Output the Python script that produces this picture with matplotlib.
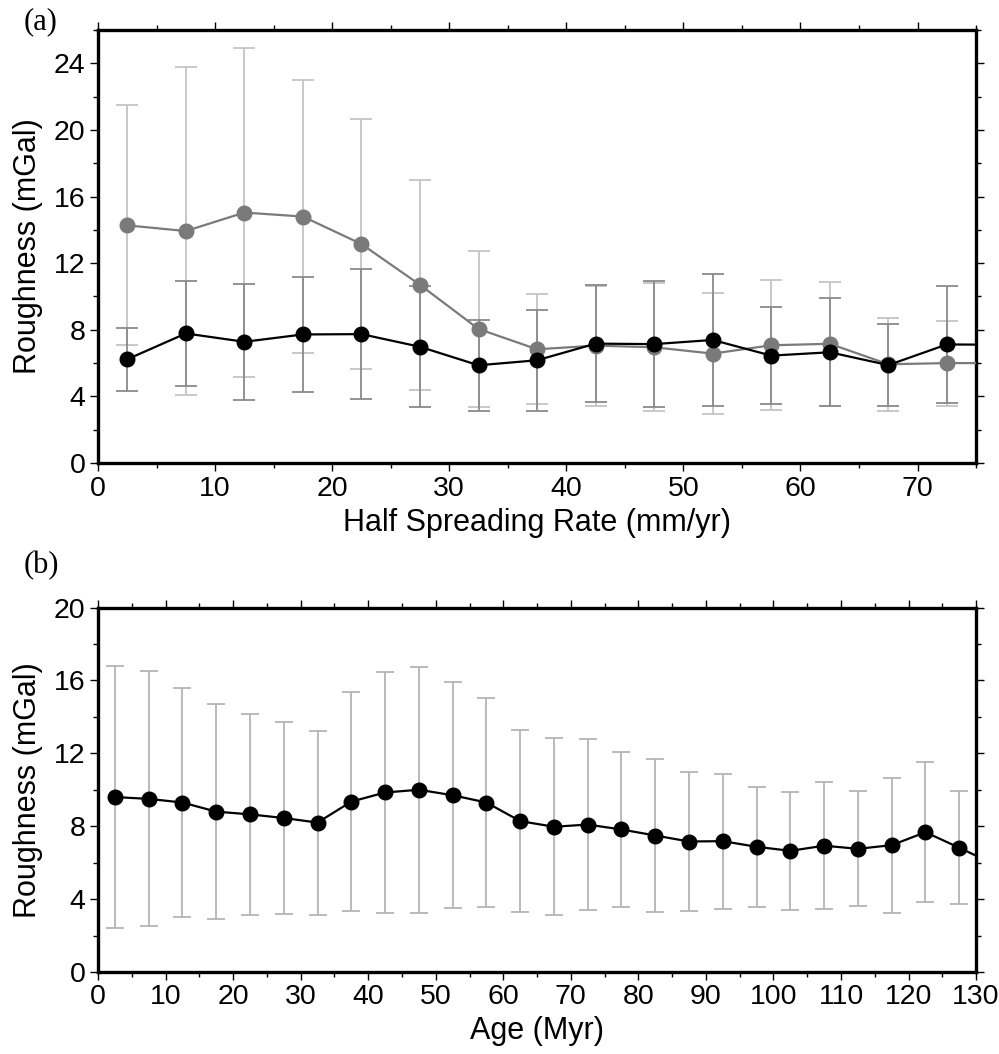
import numpy as np
import matplotlib
matplotlib.use("Agg")
import matplotlib.pyplot as plt
from matplotlib.ticker import MultipleLocator

plt.rcParams["font.family"] = ["Liberation Sans", "DejaVu Sans"]

# panel (a): roughness vs half spreading rate
rate = [2.5, 7.5, 12.5, 17.5, 22.5, 27.5, 32.5, 37.5, 42.5, 47.5, 52.5, 57.5, 62.5, 67.5, 72.5, 77.5]
gray_mean = [14.27, 13.93, 15.04, 14.80, 13.15, 10.70, 8.05, 6.83, 7.05, 6.95, 6.57, 7.07, 7.16, 5.93, 6.00, 6.00]
gray_std = [7.20, 9.86, 9.86, 8.20, 7.52, 6.30, 4.70, 3.30, 3.60, 3.85, 3.65, 3.90, 3.73, 2.78, 2.55, 2.50]
black_mean = [6.23, 7.78, 7.28, 7.72, 7.74, 6.98, 5.87, 6.17, 7.17, 7.14, 7.39, 6.45, 6.65, 5.88, 7.12, 7.10]
black_std = [1.90, 3.13, 3.47, 3.45, 3.90, 3.63, 2.74, 3.03, 3.50, 3.79, 3.94, 2.90, 3.25, 2.44, 3.52, 3.50]

# panel (b): roughness vs age
age = [2.5, 7.5, 12.5, 17.5, 22.5, 27.5, 32.5, 37.5, 42.5, 47.5, 52.5, 57.5, 62.5, 67.5,
       72.5, 77.5, 82.5, 87.5, 92.5, 97.5, 102.5, 107.5, 112.5, 117.5, 122.5, 127.5, 132.5]
age_mean = [9.60, 9.50, 9.30, 8.80, 8.65, 8.45, 8.20, 9.35, 9.85, 10.00, 9.70, 9.30, 8.28, 7.97,
            8.09, 7.82, 7.49, 7.16, 7.18, 6.87, 6.65, 6.93, 6.76, 6.96, 7.67, 6.82, 5.94]
age_std = [7.20, 7.00, 6.30, 5.90, 5.50, 5.25, 5.05, 6.00, 6.60, 6.75, 6.20, 5.75, 5.00, 4.85,
           4.70, 4.25, 4.20, 3.80, 3.70, 3.30, 3.25, 3.50, 3.15, 3.70, 3.85, 3.10, 3.00]

fig = plt.figure(figsize=(9.99, 10.54), dpi=100)
ax1 = fig.add_axes([0.0981, 0.5607, 0.879, 0.4108])
ax2 = fig.add_axes([0.0981, 0.0778, 0.879, 0.3458])


def style(ax, xmaj, xmin, ymaj, ymin):
    for s in ax.spines.values():
        s.set_linewidth(2.4)
    ax.xaxis.set_major_locator(MultipleLocator(xmaj))
    ax.xaxis.set_minor_locator(MultipleLocator(xmin))
    ax.yaxis.set_major_locator(MultipleLocator(ymaj))
    ax.yaxis.set_minor_locator(MultipleLocator(ymin))
    ax.tick_params(which="both", direction="out", top=True, right=True, width=1.0)
    ax.tick_params(which="major", length=6, labelsize=20.5, pad=3)
    ax.tick_params(which="minor", length=3.5)
    ax.tick_params(labeltop=False, labelright=False)


ax1.errorbar(rate, gray_mean, yerr=gray_std, fmt="none", ecolor="#c4c4c4", elinewidth=1.3, capsize=8, capthick=1.3)
ax1.errorbar(rate, black_mean, yerr=black_std, fmt="none", ecolor="#8a8a8a", elinewidth=1.3, capsize=8, capthick=1.3)
ax1.plot(rate, gray_mean, "-o", color="#7a7a7a", lw=1.6, ms=10.5, zorder=3)
ax1.plot(rate, black_mean, "-o", color="black", lw=1.6, ms=10.5, zorder=4)
ax1.set_xlim(0, 75)
ax1.set_ylim(0, 26)
style(ax1, 10, 5, 4, 2)
ax1.set_xlabel("Half Spreading Rate (mm/yr)", fontsize=22, labelpad=5)
ax1.set_ylabel("Roughness (mGal)", fontsize=22, labelpad=8)

ax2.errorbar(age, age_mean, yerr=age_std, fmt="none", ecolor="#b4b4b4", elinewidth=1.3, capsize=6.5, capthick=1.3)
ax2.plot(age, age_mean, "-o", color="black", lw=1.6, ms=10.5, zorder=4)
ax2.set_xlim(0, 130)
ax2.set_ylim(0, 20)
style(ax2, 10, 5, 4, 2)
ax2.set_xlabel("Age (Myr)", fontsize=22, labelpad=4)
ax2.set_ylabel("Roughness (mGal)", fontsize=22, labelpad=8)

fig.text(0.024, 0.979, "(a)", fontsize=22, family="Liberation Serif", va="center", ha="left")
fig.text(0.024, 0.463, "(b)", fontsize=22, family="Liberation Serif", va="center", ha="left")

fig.savefig("out.png", dpi=100)
